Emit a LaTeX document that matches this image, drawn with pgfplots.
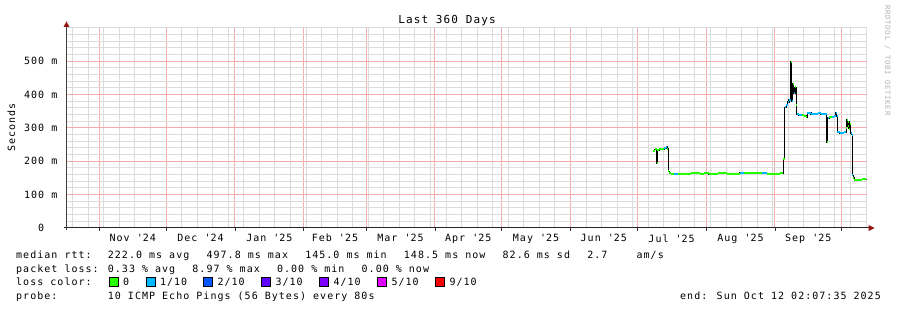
\documentclass[border=0pt]{standalone}
\usepackage{fontspec}
\setmainfont{DejaVu Sans Mono}[LetterSpace=10.3]
\usepackage{pgfplots}
\usepackage{pgfplotstable}
\pgfplotsset{compat=1.18}
\definecolor{gridminor}{RGB}{220,220,220}
\definecolor{gridmajor}{RGB}{246,172,172}
\definecolor{axred}{RGB}{150,20,20}
\definecolor{wm}{RGB}{180,180,180}
\definecolor{lossA}{HTML}{26FF00}
\definecolor{lossB}{HTML}{00B8FF}
\definecolor{lossC}{HTML}{0059FF}
\definecolor{lossD}{HTML}{5E00FF}
\definecolor{lossE}{HTML}{7E00FF}
\definecolor{lossF}{HTML}{DD00FF}
\definecolor{lossG}{HTML}{FF0000}

% median rtt (days since start of the 360-day window, milliseconds)
\pgfplotstableread{
d v
263.8 232
264.6 236
265.5 194
265.8 234
266.8 236
268.0 237
269.0 240
269.8 243
270.3 238
270.8 170
271.3 166
272.0 163
273.5 161
275 162
277 163
279 162
281 164
283 165
285 163
287 164
289 162
291 163
293 164
295 165
297 163
299 162
301 163
303 165
305 166
307 166
309 164
311 165
313 164
315 163
317 162
319 163
321 164
322.6 208
323.2 362
323.9 368
324.6 378
325.1 385
325.8 498
326.3 380
326.8 432
327.3 405
327.8 422
328.3 370
328.6 342
329.5 339
331 338
332 336
332.8 332
333.3 344
334.5 346
335 342
336.5 343
338 344
339.5 342
341 343
342.1 258
342.5 330
343.2 333
344.3 334
345.5 336
346.2 345
346.6 335
346.9 287
348 285
349 286
350 288
350.8 300
351.1 325
351.5 305
351.8 318
352.1 298
352.5 312
352.8 284
353.3 280
353.6 158
354 150
354.5 145
356 145
358 146
359.9 148
}\median

\begin{document}
\fontsize{10}{12}\selectfont
\begin{tikzpicture}[font=\fontsize{10}{12}\selectfont]
\fill[white] (0pt,0pt) rectangle (897pt,310pt);
\useasboundingbox (0pt,0pt) rectangle (897pt,310pt);
\begin{axis}[
  at={(66.5pt,82pt)}, anchor=south west, scale only axis,
  width=800pt, height=200pt,
  xmin=0, xmax=360, ymin=0, ymax=600,
  axis line style={draw=none},
  tick pos=left,
  xtick={14.8,44.8,75.8,106.8,134.8,165.8,195.8,226.8,256.8,287.8,318.8,348.8},
  xticklabels={},
  minor xtick={2.8,9.8,...,359.8},
  extra x ticks={29.8,60.3,91.3,120.8,150.3,180.8,211.3,241.8,272.3,303.3,333.8},
  extra x tick labels={Nov \textquotesingle24,Dec \textquotesingle24,Jan \textquotesingle25,Feb \textquotesingle25,Mar \textquotesingle25,Apr \textquotesingle25,May \textquotesingle25,Jun \textquotesingle25,Jul \textquotesingle25,Aug \textquotesingle25,Sep \textquotesingle25},
  extra x tick style={grid=none, major tick length=0pt},
  ytick={0,100,200,300,400,500},
  yticklabels={0\hphantom{\ m},100 m,200 m,300 m,400 m,500 m},
  minor ytick={20,40,60,80,120,140,160,180,220,240,260,280,320,340,360,380,420,440,460,480,520,540,560,580,600},
  grid=both,
  major grid style={draw=gridmajor, line width=1pt},
  minor grid style={draw=gridminor, line width=1pt},
  tick align=outside,
  major tick length=3pt, minor tick length=0pt,
  every tick/.style={black!80, line width=0.8pt},
  ytick style={draw=none},
  yticklabel style={anchor=east, inner sep=0pt, xshift=-6pt},
  xticklabel style={anchor=north, inner sep=0pt, yshift=-6.2pt},
]
\addplot[black, line width=1.1pt, const plot mark left] table[x=d, y=v] {\median};
\addplot[lossA, line width=2pt, jump mark left] table[x=d, y=v] {\median};
\addplot[lossB, line width=2pt, unbounded coords=jump] coordinates {
(269.0,240)(269.8,240)(269.8,nan)
(269.8,243)(270.3,243)(270.3,nan)
(273.5,161)(275,161)(275,nan)
(303,165)(305,165)(305,nan)
(313,164)(315,164)(315,nan)
(323.2,362)(323.9,362)(323.9,nan)
(323.9,368)(324.6,368)(324.6,nan)
(324.6,378)(325.1,378)(325.1,nan)
(325.1,385)(325.8,385)(325.8,nan)
(326.3,380)(326.8,380)(326.8,nan)
(327.3,405)(327.8,405)(327.8,nan)
(328.6,342)(329.5,342)(329.5,nan)
(329.5,339)(331,339)(331,nan)
(333.3,344)(334.5,344)(334.5,nan)
(334.5,346)(335,346)(335,nan)
(335,342)(336.5,342)(336.5,nan)
(336.5,343)(338,343)(338,nan)
(338,344)(339.5,344)(339.5,nan)
(339.5,342)(341,342)(341,nan)
(341,343)(342.1,343)(342.1,nan)
(342.5,330)(343.2,330)(343.2,nan)
(344.3,334)(345.5,334)(345.5,nan)
(345.5,336)(346.2,336)(346.2,nan)
(346.2,345)(346.6,345)(346.6,nan)
(346.6,335)(346.9,335)(346.9,nan)
(346.9,287)(348,287)(348,nan)
(348,285)(349,285)(349,nan)
(349,286)(350,286)(350,nan)
(350,288)(350.8,288)(350.8,nan)
(352.8,284)(353.3,284)(353.3,nan)
(353.3,280)(353.6,280)(353.6,nan)
(353.6,158)(354,158)(354,nan)
};
\end{axis}
% axis lines and arrow heads
\draw[black!85, line width=1pt] (64pt,82pt) -- (869pt,82pt);
\fill[axred] (874.5pt,82pt) -- (868.5pt,85pt) -- (868.5pt,79pt) -- cycle;
\draw[black!75, line width=1pt] (66.5pt,79.5pt) -- (66.5pt,284pt);
\fill[axred] (66.5pt,288.5pt) -- (63.5pt,283pt) -- (69.5pt,283pt) -- cycle;
% title and axis label
\node[anchor=base, inner sep=0pt, font=\fontsize{11}{13}\selectfont] at (447pt,286pt) {Last 360 Days};
\node[anchor=base, inner sep=0pt, rotate=90] at (15pt,182.5pt) {Seconds};
\node[anchor=base west, inner sep=0pt, rotate=-90, text=wm, font=\fontsize{7.3}{8}\selectfont] at (885pt,305pt) {RRDTOOL / TOBI OETIKER};
% legend rows
\begin{scope}[every node/.style={anchor=base west, inner sep=0pt}]
\node at (16pt,51.7pt) {median rtt:};
\node at (107.65pt,51.7pt) {222.0 ms avg};
\node at (206.35pt,51.7pt) {497.8 ms max};
\node at (305.05pt,51.7pt) {145.0 ms min};
\node at (403.75pt,51.7pt) {148.5 ms now};
\node at (502.45pt,51.7pt) {82.6 ms sd};
\node at (587.05pt,51.7pt) {2.7};
\node at (636.4pt,51.7pt) {am/s};
\node at (16pt,37.8pt) {packet loss:};
\node at (107.65pt,37.8pt) {0.33 \% avg};
\node at (192.25pt,37.8pt) {8.97 \% max};
\node at (276.85pt,37.8pt) {0.00 \% min};
\node at (361.45pt,37.8pt) {0.00 \% now};
\node at (16pt,24pt) {loss color:};
\node at (122.8pt,24pt) {0};
\node at (159.8pt,24pt) {1/10};
\node at (217.3pt,24pt) {2/10};
\node at (275.3pt,24pt) {3/10};
\node at (333.3pt,24pt) {4/10};
\node at (391.3pt,24pt) {5/10};
\node at (449.3pt,24pt) {9/10};
\node at (16pt,10.2pt) {probe:};
\node at (107.65pt,10.2pt) {10 ICMP Echo Pings (56 Bytes) every 80s};
\node[anchor=base east] at (881pt,10.2pt) {end: Sun Oct 12 02:07:35 2025};
\end{scope}
\begin{scope}[line width=0.8pt]
\filldraw[fill=lossA, draw=black] (109pt,23.3pt) rectangle (118pt,32.3pt);
\filldraw[fill=lossB, draw=black] (146pt,23.3pt) rectangle (155pt,32.3pt);
\filldraw[fill=lossC, draw=black] (203.5pt,23.3pt) rectangle (212.5pt,32.3pt);
\filldraw[fill=lossD, draw=black] (261.5pt,23.3pt) rectangle (270.5pt,32.3pt);
\filldraw[fill=lossE, draw=black] (319.5pt,23.3pt) rectangle (328.5pt,32.3pt);
\filldraw[fill=lossF, draw=black] (377.5pt,23.3pt) rectangle (386.5pt,32.3pt);
\filldraw[fill=lossG, draw=black] (435.5pt,23.3pt) rectangle (444.5pt,32.3pt);
\end{scope}
\end{tikzpicture}
\end{document}
